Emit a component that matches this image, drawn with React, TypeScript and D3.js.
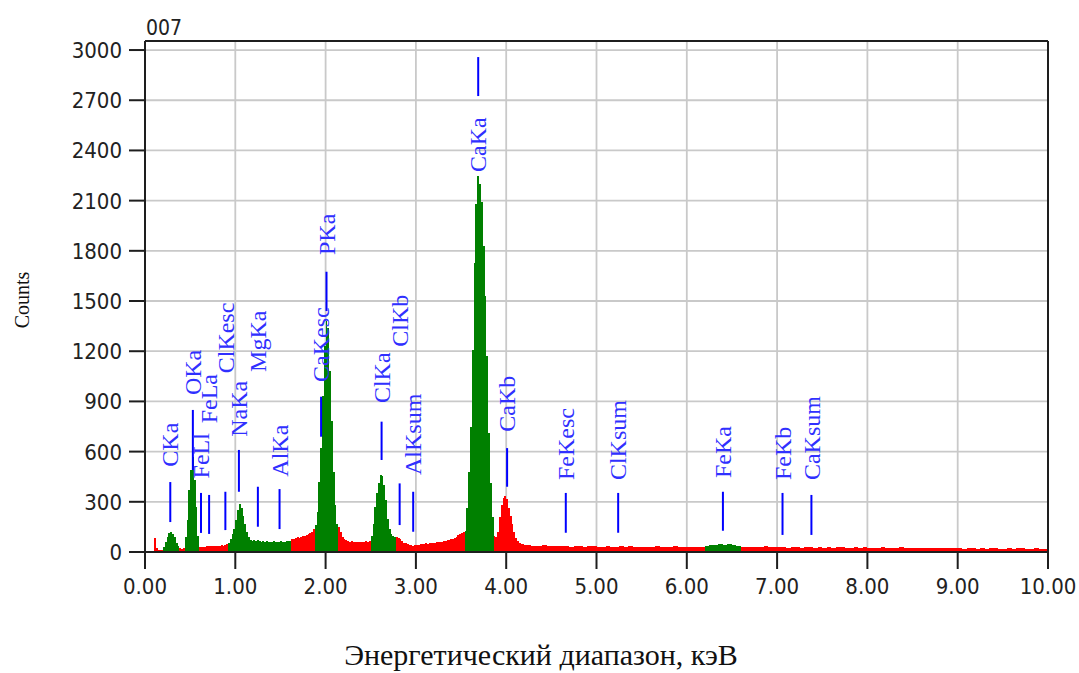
import React from 'react';
import * as d3 from 'd3';

const W = 1079;
const H = 673;

const titleText = '007';
const yAxisTitle = 'Counts';
const xAxisTitle = 'Энергетический диапазон, кэВ';

const xTicks = [0, 1, 2, 3, 4, 5, 6, 7, 8, 9, 10];
const xTickLabels = ['0.00', '1.00', '2.00', '3.00', '4.00', '5.00', '6.00', '7.00', '8.00', '9.00', '10.00'];
const yTicks = [0, 300, 600, 900, 1200, 1500, 1800, 2100, 2400, 2700, 3000];

// spectrum, 0.02 keV channels from 0.00 to 4.30 keV
const lowStart = 0;
const lowStep = 0.02;
const lowCounts = [
  3, 4, 5, 6, 8, 84, 25, 12, 10, 12,
  32, 62, 92, 112, 120, 105, 88, 55, 35, 22,
  20, 24, 90, 190, 370, 490, 565, 430, 270, 95,
  28, 30, 32, 30, 34, 33, 36, 35, 38, 36,
  38, 37, 40, 38, 44, 48, 55, 75, 110, 140,
  190, 250, 287, 265, 215, 165, 120, 88, 72, 66,
  70, 64, 74, 66, 62, 68, 60, 64, 58, 62,
  60, 64, 58, 62, 60, 63, 60, 62, 66, 64,
  68, 76, 80, 84, 88, 86, 92, 95, 98, 100,
  108, 112, 122, 136, 160, 240, 420, 620, 930, 1230,
  1380, 1340, 1080, 780, 480, 280, 170, 150, 120, 90,
  78, 72, 68, 62, 64, 60, 62, 58, 60, 58,
  62, 60, 64, 62, 66, 95, 170, 270, 350, 410,
  460, 455, 400, 310, 200, 140, 105, 95, 90, 88,
  84, 80, 66, 56, 52, 48, 42, 40, 38, 40,
  42, 44, 46, 48, 50, 52, 50, 54, 52, 56,
  55, 58, 57, 60, 62, 64, 66, 70, 72, 76,
  80, 86, 92, 100, 110, 116, 122, 125, 260, 480,
  750, 1210, 1730, 2080, 2250, 2200, 2090, 1830, 1530, 1170,
  710, 410, 210, 95, 92, 120, 210, 280, 325, 335,
  315, 265, 215, 170, 120, 85, 66, 55, 50, 46,
  44, 42, 40, 42, 38,
];

// spectrum, 0.05 keV steps from 4.30 to 10.00 keV
const highStart = 4.3;
const highStep = 0.05;
const highCounts = [
  38, 36, 40, 34, 36, 33, 38, 35, 32, 36, 34, 31, 35, 33,
  32, 30, 34, 31, 29, 33, 30, 36, 31, 30, 28, 32, 30, 34, 29, 31, 28, 33, 30, 29,
  31, 28, 30, 29,
  36, 40, 44, 45, 44, 46, 42, 38,
  30, 28, 31, 27, 29, 33, 28, 30,
  27, 29, 26, 31, 28, 26, 30, 27, 25, 29, 26, 28, 25, 27, 30, 24, 26, 28, 25, 27,
  24, 26, 23, 27, 24, 22, 25, 28, 23, 24, 22, 26, 23, 21, 25, 22, 24, 23, 21, 24,
  22, 20, 23, 21, 19, 22, 20, 24, 21, 19, 20, 22, 19, 21, 23, 20, 19, 21, 18, 20,
];

// regions of interest (green)
const roiStart = [0.20, 0.44, 0.92, 1.88, 2.50, 3.54, 6.20];
const roiEnd = [0.38, 0.60, 1.62, 2.14, 2.78, 3.86, 6.60];

// peak markers
const labelNames = ['CKa', 'OKa', 'FeLl', 'FeLa', 'ClKesc', 'NaKa', 'MgKa', 'AlKa', 'CaKesc', 'PKa',
  'ClKa', 'ClKb', 'AlKsum', 'CaKa', 'CaKb', 'FeKesc', 'ClKsum', 'FeKa', 'FeKb', 'CaKsum'];
const labelEnergies = [0.28, 0.53, 0.62, 0.71, 0.89, 1.04, 1.25, 1.49, 1.95, 2.01,
  2.62, 2.82, 2.97, 3.69, 4.01, 4.66, 5.24, 6.40, 7.06, 7.38];
const labelLineTop = [418, 849, 353, 341, 360, 610, 390, 376, 928, 1675,
  779, 410, 360, 2958, 621, 353, 353, 360, 353, 341];
const labelLineBottom = [179, 490, 114, 108, 131, 360, 151, 137, 689, 1440,
  550, 161, 121, 2725, 390, 115, 115, 127, 102, 102];
const labelTextStart = [510, 938, 440, 769, 1068, 689, 1076, 450, 1016, 1775,
  890, 1227, 460, 2271, 719, 430, 430, 442, 430, 430];

const RED = '#ff0000';
const GREEN = '#008000';
const BLUE = '#0000ff';
const AXIS = '#1e1e1e';
const GRID = '#c9c9c9';
const SANS = "'DejaVu Sans Condensed', 'Liberation Sans Narrow', 'DejaVu Sans', sans-serif";
const SERIF = "'Liberation Serif', 'Times New Roman', serif";

type Bin = { e0: number; e1: number; c: number };

export default function App() {
  const left = 145, right = 1048, top = 41, bottom = 552;
  const x = d3.scaleLinear().domain([0, 10]).range([left, right]);
  const y = d3.scaleLinear().domain([0, 3054]).range([bottom, top]);

  const bins: Bin[] = [
    ...lowCounts.map((c, i) => ({ e0: lowStart + i * lowStep, e1: lowStart + (i + 1) * lowStep, c })),
    ...highCounts.map((c, i) => ({ e0: highStart + i * highStep, e1: highStart + (i + 1) * highStep, c })),
  ];

  const area = d3
    .area<[number, number]>()
    .x((p) => x(p[0]))
    .y0(y(0))
    .y1((p) => y(p[1]))
    .curve(d3.curveStepAfter);

  const toPts = (bs: Bin[]): [number, number][] => {
    if (!bs.length) return [];
    const pts: [number, number][] = bs.map((b) => [b.e0, b.c]);
    const last = bs[bs.length - 1];
    pts.push([last.e1, last.c]);
    return pts;
  };

  const redPath = area(toPts(bins)) || '';
  const greenPaths = roiStart.map((s, k) => {
    const e = roiEnd[k];
    const sel = bins.filter((b) => b.e0 >= s - 1e-6 && b.e0 < e - 1e-6);
    return area(toPts(sel)) || '';
  });

  return (
    <svg
      width={W}
      height={H}
      viewBox={`0 0 ${W} ${H}`}
      style={{ position: 'absolute', left: 0, top: 0, background: '#fff' }}
    >
      <rect x={0} y={0} width={W} height={H} fill="#fff" />
      {/* grid */}
      {xTicks.slice(1, -1).map((t) => (
        <line key={'gx' + t} x1={x(t)} x2={x(t)} y1={top} y2={bottom} stroke={GRID} strokeWidth={1.8} />
      ))}
      {yTicks.slice(1).map((t) => (
        <line key={'gy' + t} x1={left} x2={right} y1={y(t)} y2={y(t)} stroke={GRID} strokeWidth={1.8} />
      ))}

      {/* spectrum */}
      <path d={redPath} fill={RED} stroke="none" shapeRendering="crispEdges" />
      {greenPaths.map((d, k) => (
        <path key={'g' + k} d={d} fill={GREEN} stroke="none" shapeRendering="crispEdges" />
      ))}

      {/* markers */}
      {labelNames.map((name, i) => {
        const lx = x(labelEnergies[i]);
        return (
          <g key={'lab' + i}>
            <line x1={lx} x2={lx} y1={y(labelLineTop[i])} y2={y(labelLineBottom[i])} stroke={BLUE} strokeWidth={2} />
            <text
              transform={`translate(${lx},${y(labelTextStart[i])}) rotate(-90)`}
              dy="0.34em"
              textAnchor="start"
              fontFamily={SERIF}
              fontSize={24}
              fill="#3030ff"
            >
              {name}
            </text>
          </g>
        );
      })}

      {/* frame */}
      <line x1={left} x2={right} y1={top} y2={top} stroke={AXIS} strokeWidth={2} />
      <line x1={right} x2={right} y1={top} y2={bottom} stroke={AXIS} strokeWidth={2} />
      <line x1={left} x2={left} y1={top} y2={bottom + 1} stroke={AXIS} strokeWidth={2} />
      <line x1={left - 1} x2={right + 1} y1={bottom} y2={bottom} stroke={AXIS} strokeWidth={2} />

      {/* y axis */}
      {yTicks.map((t) => (
        <g key={'yt' + t}>
          <line x1={left - 16} x2={left} y1={y(t)} y2={y(t)} stroke={AXIS} strokeWidth={2} />
          <text
            x={122}
            y={y(t)}
            dy="0.36em"
            textAnchor="end"
            fontFamily={SANS}
            fontSize={22}
            fill="#222"
            style={{ fontStretch: 'condensed' }}
          >
            {t}
          </text>
        </g>
      ))}

      {/* x axis */}
      {xTicks.map((t, i) => (
        <g key={'xt' + t}>
          <line x1={x(t)} x2={x(t)} y1={bottom} y2={bottom + 17} stroke={AXIS} strokeWidth={2} />
          <text
            x={x(t)}
            y={593.5}
            textAnchor="middle"
            fontFamily={SANS}
            fontSize={22}
            fill="#222"
            style={{ fontStretch: 'condensed' }}
          >
            {xTickLabels[i]}
          </text>
        </g>
      ))}

      <text x={146} y={35} fontFamily={SANS} fontSize={21} fill="#222" style={{ fontStretch: 'condensed' }}>
        {titleText}
      </text>

      <text
        transform={`translate(29,300) rotate(-90)`}
        textAnchor="middle"
        fontFamily={SERIF}
        fontSize={20}
        fill="#111"
      >
        {yAxisTitle}
      </text>

      <text x={541} y={665} textAnchor="middle" fontFamily={SERIF} fontSize={30} fill="#111">
        {xAxisTitle}
      </text>
    </svg>
  );
}
